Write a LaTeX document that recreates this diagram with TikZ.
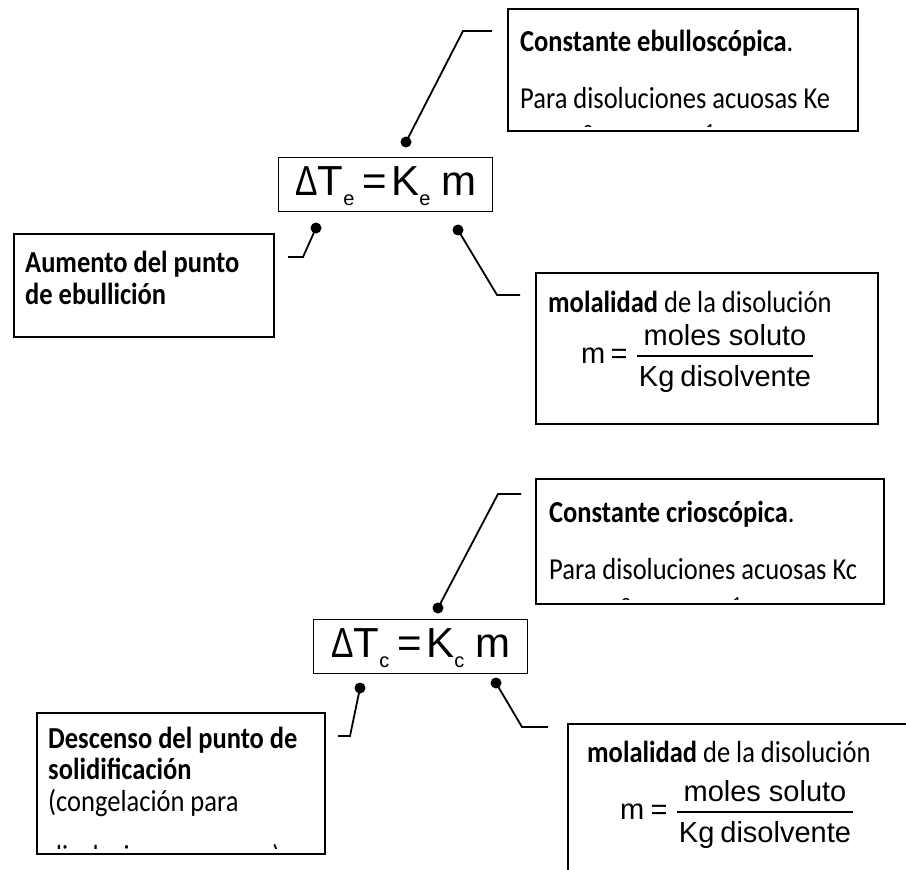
\documentclass[tikz,border=0pt]{standalone}
\usepackage{fontspec}
\setmainfont{Carlito}
\newfontfamily\arialf{Liberation Sans}
\newcommand{\eqsub}[1]{\raisebox{-10pt}{\fontsize{20}{20}\selectfont #1}}
\newcommand{\myeq}[1]{{\arialf\fontsize{42}{42}\selectfont\scalebox{0.8}[1]{Δ}T\eqsub{#1}\kern8pt=\kern4.5pt K\eqsub{#1}\kern11pt m}}
\newcommand{\vs}[1]{\scalebox{1}[1.15]{#1}}
\begin{document}
\begin{tikzpicture}[x=1pt,y=-1pt,
  box/.style={draw=black,line width=1.9pt,anchor=north west,inner sep=0pt},
  eqbox/.style={draw=black,line width=1.2pt,anchor=north west,inner sep=0pt},
  conn/.style={draw=black,line width=1.8pt},
  txt/.style={anchor=base west,inner sep=0pt,font=\fontsize{26.5}{31}\selectfont},
  ar/.style={inner sep=0pt,font=\arialf\fontsize{29}{29}\selectfont},
  dotc/.style={circle,fill=black,inner sep=0pt,minimum size=11pt},
  frag/.style={anchor=base,inner sep=0pt,font=\fontsize{26.5}{31}\selectfont}
]
\useasboundingbox[fill=white] (0,0) rectangle (906,870);

% ================= TOP =================
\node[box,minimum width=350pt,minimum height=122pt] (c1) at (507,8) {};
\node[txt] (c1t1) at (520,52) {\vs{\bfseries Constante ebulloscópica\mdseries.}};
\node[txt] (c1t2) at (520,108) {\vs{Para disoluciones acuosas Ke}};
\begin{scope}
  \clip (508,9) rectangle (856,126.5);
  \node[frag] (c1f1) at (588,143) {°};
  \node[frag] (c1f2) at (710,146) {\textsuperscript{1}};
\end{scope}

\node[eqbox,minimum width=214pt,minimum height=54pt] (e1) at (278,157) {};
\node[anchor=base west,inner sep=0pt] (e1t) at (295,195) {\myeq{e}};

\node[dotc] (d1) at (406,142) {};
\coordinate (k1a) at (463,31);
\coordinate (k1b) at (492,31);
\draw[conn] (d1.center) -- (k1a) -- (k1b);

\node[box,minimum width=260pt,minimum height=103pt] (a) at (13,233) {};
\node[txt] (at1) at (25,272) {\vs{\bfseries Aumento del punto}};
\node[txt] (at2) at (25,304) {\vs{\bfseries de ebullición}};

\node[dotc] (d2) at (316,228) {};
\coordinate (k2a) at (303,257);
\coordinate (k2b) at (288,257);
\draw[conn] (d2.center) -- (k2a) -- (k2b);

\node[box,minimum width=342pt,minimum height=151pt] (m1) at (535,272) {};
\node[txt] (m1t) at (548,312) {\vs{\bfseries molalidad\mdseries{} de la disolución}};
\node[ar,anchor=base west] (m1m) at (581,363) {m};
\node[ar,anchor=base west] (m1eq) at (610.5,363) {=};
\node[ar,anchor=base] (m1n) at (725,345) {moles soluto};
\node[ar,anchor=base] (m1d) at (725,386) {Kg\kern6pt disolvente};
\draw[line width=1.2pt] (637,356) -- (813,356);

\node[dotc] (d3) at (458,230) {};
\coordinate (k3a) at (497,295);
\coordinate (k3b) at (520,295);
\draw[conn] (d3.center) -- (k3a) -- (k3b);

% ================= BOTTOM =================
\node[box,minimum width=348pt,minimum height=125pt] (c2) at (535,478) {};
\node[txt] (c2t1) at (549,522) {\vs{\bfseries Constante crioscópica\mdseries.}};
\node[txt] (c2t2) at (549,579) {\vs{Para disoluciones acuosas Kc}};
\begin{scope}
  \clip (536,479) rectangle (882,599.5);
  \node[frag] (c2f1) at (626,616) {°};
  \node[frag] (c2f2) at (737,619) {\textsuperscript{1}};
\end{scope}

\node[eqbox,minimum width=214pt,minimum height=54pt] (e2) at (313,619) {};
\node[anchor=base west,inner sep=0pt] (e2t) at (331,657) {\myeq{c}};

\node[dotc] (d4) at (438,608) {};
\coordinate (k4a) at (498,494);
\coordinate (k4b) at (521,494);
\draw[conn] (d4.center) -- (k4a) -- (k4b);

\node[box,minimum width=288pt,minimum height=141pt] (d) at (36,712) {};
\node[txt] (dt1) at (48,748) {\vs{\bfseries Descenso del punto de}};
\node[txt] (dt2) at (48,779) {\vs{\bfseries solidificación}};
\node[txt] (dt3) at (48,811) {\vs{(congelación para}};
\begin{scope}
  \clip (37,713) rectangle (323,848);
  \node[txt] (dt4) at (48,866) {\vs{disoluciones acuosas)}};
\end{scope}

\node[dotc] (d5) at (360,688) {};
\coordinate (k5a) at (350,736);
\coordinate (k5b) at (338,736);
\draw[conn] (d5.center) -- (k5a) -- (k5b);

\node[box,minimum width=342pt,minimum height=160pt] (m2) at (567,723) {};
\node[txt] (m2t) at (587,762) {\vs{\bfseries molalidad\mdseries{} de la disolución}};
\node[ar,anchor=base west] (m2m) at (620,819) {m};
\node[ar,anchor=base west] (m2eq) at (650.5,819) {=};
\node[ar,anchor=base] (m2n) at (765,801) {moles soluto};
\node[ar,anchor=base] (m2d) at (765,842) {Kg\kern6pt disolvente};
\draw[line width=1.2pt] (677,812) -- (853,812);

\node[dotc] (d6) at (496,683) {};
\coordinate (k6a) at (522,727);
\coordinate (k6b) at (548,727);
\draw[conn] (d6.center) -- (k6a) -- (k6b);
\end{tikzpicture}
\end{document}
